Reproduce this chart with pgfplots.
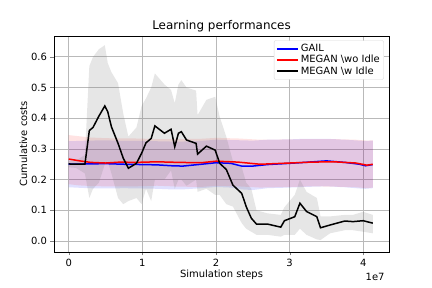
\documentclass[border=0pt]{standalone}
\usepackage{pgfplots}
\pgfplotsset{compat=1.18}
\usepackage{pgfplotstable}
\usepgfplotslibrary{fillbetween}
\usepackage{fontspec}
\setmainfont{DejaVu Sans}
\pgfplotstableread{
t m lo hi
0.00 0.250 0.175 0.325
0.25 0.251 0.172 0.327
0.50 0.252 0.171 0.328
0.75 0.250 0.172 0.326
1.00 0.249 0.171 0.326
1.20 0.248 0.170 0.325
1.40 0.245 0.168 0.324
1.55 0.244 0.168 0.324
1.80 0.250 0.172 0.326
2.00 0.255 0.176 0.330
2.20 0.253 0.174 0.329
2.35 0.244 0.168 0.328
2.50 0.244 0.166 0.327
2.70 0.249 0.172 0.330
3.00 0.253 0.174 0.331
3.20 0.256 0.176 0.333
3.50 0.261 0.178 0.333
3.75 0.256 0.175 0.330
3.95 0.250 0.171 0.327
4.03 0.245 0.170 0.326
4.13 0.249 0.172 0.327
}\gailtab
\pgfplotstableread{
t m lo hi
0.00 0.267 0.185 0.345
0.15 0.261 0.181 0.341
0.30 0.256 0.179 0.337
0.50 0.254 0.178 0.335
0.70 0.257 0.178 0.334
0.90 0.256 0.178 0.334
1.20 0.258 0.180 0.332
1.50 0.256 0.177 0.332
1.80 0.255 0.176 0.333
2.00 0.260 0.180 0.336
2.30 0.257 0.178 0.334
2.60 0.250 0.174 0.330
3.00 0.254 0.176 0.331
3.30 0.257 0.178 0.332
3.60 0.258 0.177 0.332
3.90 0.254 0.175 0.330
4.05 0.247 0.172 0.327
4.13 0.250 0.174 0.328
}\wotab
\pgfplotstableread{
t m lo hi
0.00 0.251 0.240 0.262
0.10 0.250 0.238 0.262
0.22 0.250 0.220 0.280
0.28 0.360 0.140 0.570
0.33 0.370 0.170 0.600
0.41 0.407 0.190 0.625
0.49 0.440 0.250 0.638
0.53 0.421 0.260 0.580
0.58 0.372 0.220 0.550
0.67 0.318 0.140 0.514
0.74 0.270 0.120 0.416
0.81 0.237 0.130 0.340
0.92 0.253 0.140 0.370
0.99 0.286 0.120 0.440
1.05 0.320 0.170 0.465
1.12 0.334 0.130 0.500
1.17 0.375 0.200 0.546
1.30 0.351 0.200 0.510
1.39 0.364 0.230 0.492
1.44 0.307 0.170 0.449
1.49 0.351 0.200 0.510
1.53 0.356 0.200 0.524
1.60 0.329 0.180 0.500
1.73 0.318 0.200 0.490
1.75 0.283 0.160 0.410
1.87 0.309 0.170 0.460
1.99 0.296 0.150 0.470
2.05 0.253 0.150 0.405
2.14 0.233 0.120 0.340
2.23 0.182 0.112 0.260
2.35 0.155 0.058 0.240
2.41 0.112 0.040 0.190
2.48 0.074 0.030 0.170
2.55 0.055 0.020 0.100
2.70 0.055 0.020 0.090
2.88 0.045 0.014 0.085
2.93 0.066 0.020 0.110
3.07 0.079 0.020 0.150
3.14 0.123 0.040 0.200
3.23 0.096 0.020 0.160
3.37 0.079 0.005 0.140
3.42 0.043 0.003 0.080
3.55 0.052 0.025 0.080
3.75 0.065 0.035 0.085
3.86 0.063 0.035 0.085
4.00 0.066 0.030 0.095
4.13 0.058 0.025 0.085
}\witab
\begin{document}
\begin{tikzpicture}
\begin{axis}[
  at={(0,0)}, anchor=south west,
  scale only axis, width=335bp, height=216bp,
  xmin=-0.2, xmax=4.35, ymin=-0.036, ymax=0.668,
  xtick={0,1,2,3,4}, ytick={0,0.1,0.2,0.3,0.4,0.5,0.6},
  yticklabel style={/pgf/number format/fixed,/pgf/number format/fixed zerofill,/pgf/number format/precision=1},
  /pgf/number format/assume math mode=true,
  tick align=outside, tick pos=left,
  major tick length=3.5bp,
  tick label style={font=\fontsize{10}{12}\selectfont},
  grid=major, grid style={gray!55, line width=0.8bp},
  axis line style={line width=0.8bp},
  title={Learning performances},
  title style={font=\fontsize{12}{14}\selectfont, yshift=-5bp},
  xlabel={Simulation steps},
  ylabel={Cumulative costs},
  label style={font=\fontsize{10}{12}\selectfont},
  xlabel style={yshift=3bp},
  ylabel style={yshift=-3bp},
  legend style={at={(0.985,0.98)}, anchor=north east, font=\fontsize{10}{12}\selectfont,
    draw=gray!30, rounded corners=2pt, row sep=-2pt, inner sep=2pt},
  legend cell align=left,
  legend image code/.code={\draw[#1] (0cm,0cm) -- (0.75cm,0cm);},
]
\addplot[draw=none, name path=gl, forget plot] table[x=t,y=lo]{\gailtab};
\addplot[draw=none, name path=gh, forget plot] table[x=t,y=hi]{\gailtab};
\addplot[blue, fill opacity=0.12, forget plot] fill between[of=gl and gh];
\addplot[draw=none, name path=rl, forget plot] table[x=t,y=lo]{\wotab};
\addplot[draw=none, name path=rh, forget plot] table[x=t,y=hi]{\wotab};
\addplot[red, fill opacity=0.11, forget plot] fill between[of=rl and rh];
\addplot[draw=none, name path=kl, forget plot] table[x=t,y=lo]{\witab};
\addplot[draw=none, name path=kh, forget plot] table[x=t,y=hi]{\witab};
\addplot[gray, fill opacity=0.2, forget plot] fill between[of=kl and kh];
\addplot[blue, line width=1.5bp] table[x=t,y=m]{\gailtab};
\addlegendentry{GAIL}
\addplot[red, line width=1.5bp] table[x=t,y=m]{\wotab};
\addlegendentry{MEGAN \textbackslash wo Idle}
\addplot[black, line width=1.5bp] table[x=t,y=m]{\witab};
\addlegendentry{MEGAN \textbackslash w Idle}
\end{axis}
\node[font=\fontsize{10}{12}\selectfont, anchor=east] at (334bp,-25bp) {1e7};
\pgfresetboundingbox
\useasboundingbox (-54bp,-36bp) rectangle (378bp,252bp);
\end{tikzpicture}
\end{document}
